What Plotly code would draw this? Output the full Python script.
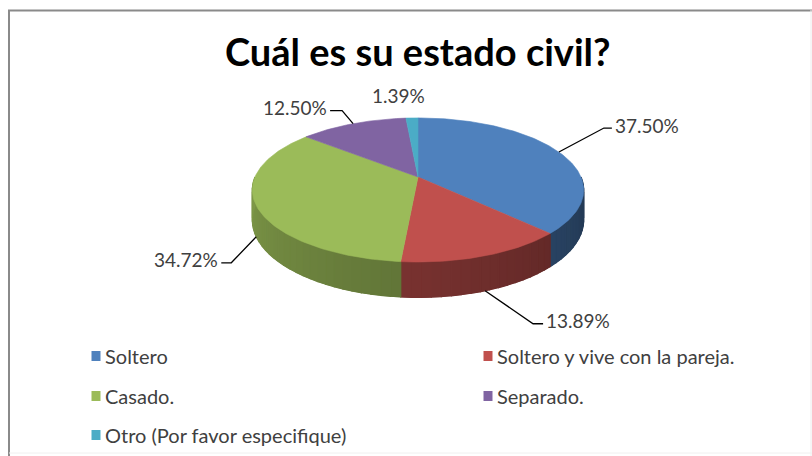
import numpy as np
import plotly.graph_objects as go

# ---- data -------------------------------------------------------------
categories = [
    "Soltero",
    "Soltero y vive con la pareja.",
    "Casado.",
    "Separado.",
    "Otro (Por favor especifique)",
]
percentages = [37.50, 13.89, 34.72, 12.50, 1.39]
colors = ["#4F81BD", "#C0504D", "#9BBB59", "#8064A2", "#4BACC6"]
title_text = "Cuál es su estado civil?"

# ---- geometry of the tilted pie (pixel space) -------------------------
W, H = 812, 456
CX, CY = 418.0, 177.0     # projected centre of the pie
RA, RB = 163.0, 69.7      # horizontal / vertical radius
K = 0.18                  # perspective strength
D0 = 29.0                 # wall thickness
TEXT = "#404040"
FONT = "Lato, 'Open Sans', sans-serif"


def project(theta_deg, drop=0.0):
    """Angle clockwise from 12 o'clock -> screen point on the rim."""
    t = np.radians(theta_deg)
    u, v = np.sin(t), -np.cos(t)
    w = 1.0 - K * v
    return CX + RA * u / w, CY + RB * v / w + drop / w


def shade(hex_color, f):
    h = hex_color.lstrip("#")
    r, g, b = (int(h[i:i + 2], 16) for i in (0, 2, 4))
    return "rgb(%d,%d,%d)" % (r * f, g * f, b * f)


def wall_factor(theta):
    return 0.42 + 0.40 * (theta - 90.0) / 180.0


def wall_polygon(t0, t1, n):
    ts = np.linspace(t0, t1, n)
    xt, yt = project(ts)
    xb, yb = project(ts[::-1], D0)
    return (np.concatenate([xt, xb, xt[:1]]), np.concatenate([yt, yb, yt[:1]]))


total = sum(percentages)
angles = np.concatenate([[0.0], np.cumsum(percentages) / total * 360.0])

fig = go.Figure()

# ---- side walls (front half only): solid base + shaded strips ---------
for i, col in enumerate(colors):
    lo, hi = max(angles[i], 90.0), min(angles[i + 1], 270.0)
    if hi <= lo:
        continue
    bx, by = wall_polygon(lo, hi, 60)
    base = shade(col, wall_factor((lo + hi) / 2))
    fig.add_trace(go.Scatter(x=bx, y=by, mode="lines", fill="toself", fillcolor=base,
                             line=dict(color=base, width=0.5), hoverinfo="skip"))
    n = int(np.ceil((hi - lo) / 3.0))
    edges = np.linspace(lo, hi, n + 1)
    for t0, t1 in zip(edges[:-1], edges[1:]):
        sx, sy = wall_polygon(t0, t1, 4)
        c = shade(col, wall_factor((t0 + t1) / 2))
        fig.add_trace(go.Scatter(x=sx, y=sy, mode="lines", fill="toself", fillcolor=c,
                                 line=dict(color=c, width=1.2), hoverinfo="skip"))

# ---- top faces ------------------------------------------------------
for i, (cat, col) in enumerate(zip(categories, colors)):
    ts = np.linspace(angles[i], angles[i + 1], max(4, int(angles[i + 1] - angles[i]) + 2))
    xr, yr = project(ts)
    fig.add_trace(go.Scatter(
        x=np.concatenate([[CX], xr, [CX]]),
        y=np.concatenate([[CY], yr, [CY]]),
        mode="lines", fill="toself", fillcolor=col,
        line=dict(color=col, width=0.6), name=cat,
        hovertemplate=f"{cat}: {percentages[i]:.2f}%<extra></extra>",
    ))

# ---- data labels with leader lines ------------------------------------
# (elbow offset from rim anchor, tail length, wall drop, text side)
label_layout = [
    ((45, -24), 8, 0.0, "right"),
    ((48, 33), 10, D0, "right"),
    ((-25, 26), -10, D0, "left"),
    ((-11, -13), -12, 0.0, "left"),
    (None, 0, 0.0, "top"),
]
annotations = []
for i, pct in enumerate(percentages):
    mid = (angles[i] + angles[i + 1]) / 2
    ax_, ay_ = project(mid, label_layout[i][2])
    label = f"{pct:.2f}%"
    off, tail, _, side = label_layout[i]
    if off is None:
        annotations.append(dict(x=ax_ - 13, y=ay_ - 22, text=label, showarrow=False,
                                xanchor="center", yanchor="middle",
                                font=dict(size=19, color=TEXT, family=FONT)))
        continue
    ex, ey = ax_ + off[0], ay_ + off[1]
    tx = ex + tail
    fig.add_trace(go.Scatter(x=[ax_, ex, tx], y=[ay_, ey, ey], mode="lines",
                             line=dict(color="#000000", width=1.3), hoverinfo="skip"))
    annotations.append(dict(
        x=tx + (1 if side == "right" else -1), y=ey - 3, text=label, showarrow=False,
        xanchor="left" if side == "right" else "right", yanchor="middle",
        font=dict(size=19, color=TEXT, family=FONT)))

# ---- title ------------------------------------------------------------
annotations.append(dict(x=418, y=51, text=f"<b>{title_text}</b>", showarrow=False,
                        xanchor="center", yanchor="middle",
                        font=dict(size=38, color="#000000", family=FONT)))

# ---- legend (two columns) ----------------------------------------------
shapes = []
leg_cols = [96, 488]
leg_rows = [356, 396, 435]
for i, (cat, col) in enumerate(zip(categories, colors)):
    lx, ly = leg_cols[i % 2], leg_rows[i // 2]
    shapes.append(dict(type="rect", xref="x", yref="y", x0=lx - 4.5, x1=lx + 4.5,
                       y0=ly - 5, y1=ly + 5, fillcolor=col, line=dict(width=0)))
    annotations.append(dict(x=lx + 7, y=ly, text=cat, showarrow=False,
                            xanchor="left", yanchor="middle",
                            font=dict(size=20, color=TEXT, family=FONT)))

# ---- chart frame --------------------------------------------------------
shapes += [
    dict(type="line", xref="x", yref="y", x0=8, x1=W, y0=10.5, y1=10.5,
         line=dict(color="#8a8a8a", width=2)),
    dict(type="line", xref="x", yref="y", x0=9, x1=9, y0=10, y1=H,
         line=dict(color="#8a8a8a", width=2)),
    dict(type="line", xref="x", yref="y", x0=811, x1=811, y0=10, y1=H,
         line=dict(color="#ececec", width=1)),
    dict(type="line", xref="x", yref="y", x0=9, x1=W, y0=453, y1=453,
         line=dict(color="#f0f0f0", width=1)),
]

fig.update_layout(
    width=W, height=H, margin=dict(l=0, r=0, t=0, b=0),
    paper_bgcolor="white", plot_bgcolor="white", showlegend=False,
    xaxis=dict(range=[0, W], visible=False, fixedrange=True),
    yaxis=dict(range=[H, 0], visible=False, fixedrange=True),
    annotations=annotations, shapes=shapes,
)

fig.write_html("out.html")
